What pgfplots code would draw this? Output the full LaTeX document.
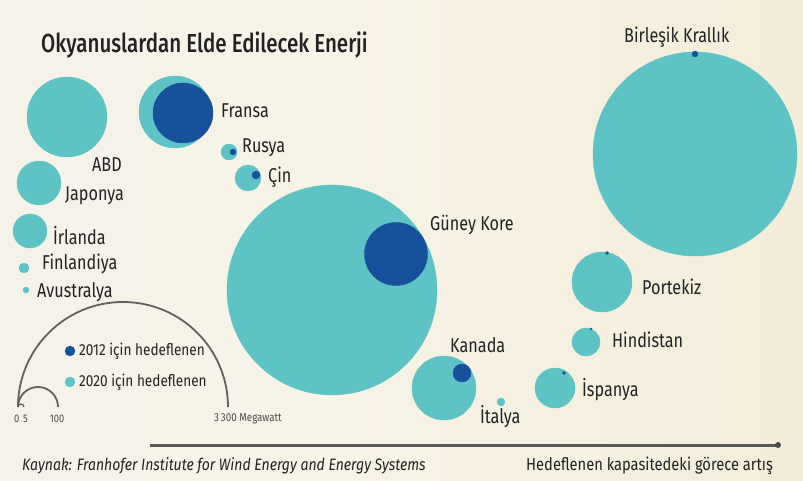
\documentclass[border=0pt]{standalone}
\usepackage{pgfplots}
\pgfplotsset{compat=1.18}
\usepackage{fontspec}
\setmainfont{Fira Sans}
\newfontfamily\cond[FakeStretch=0.81]{Fira Sans}
\newfontfamily\condl[FakeStretch=0.85]{Fira Sans}
\newfontfamily\condb[FakeStretch=0.79]{Fira Sans Medium}
\definecolor{lightc}{HTML}{5EC3C5}
\definecolor{darkc}{HTML}{17519B}
\definecolor{txt}{HTML}{222222}
\definecolor{bgA}{HTML}{F2F1EE}
\definecolor{bgB}{HTML}{F7F3E7}
\definecolor{bgC}{HTML}{F2EBD5}
\definecolor{bgD}{HTML}{EADFC1}
\pgfdeclarehorizontalshading{bgshade}{100bp}{color(0bp)=(bgA); color(45bp)=(bgB); color(85bp)=(bgC); color(100bp)=(bgD)}

% light (2020) bubbles: x, y (from bottom), r
\pgfplotstableread{
x y r
67 363 40
175 368 36
229 328 8
248 302 13
332 190 105
695 326 102
602 198 30
586 138 14
555 92 20
444 92 32
501 78 4
39 297 22
30 249 17
24 212 5
26 190 3
}\lighttab
% dark (2012) bubbles
\pgfplotstableread{
x y r
183 367 30
233 328 3
256 305 4
396 226 31.5
695 426 3
607 227 1.5
591 151 1.2
564 107 1.5
462 107 9
}\darktab

\begin{document}
\begin{tikzpicture}
\begin{axis}[
  scale only axis, width=803pt, height=480pt,
  xmin=0, xmax=803, ymin=0, ymax=480,
  hide axis, clip=false,
  axis background/.style={shading=bgshade},
]
\addplot[scatter, only marks, mark=*,
  scatter/use mapped color={draw=lightc, fill=lightc},
  visualization depends on={\thisrow{r}\as\rr},
  scatter/@pre marker code/.append style={/tikz/mark size=\rr}]
  table[x=x, y=y, meta=r] {\lighttab};
\addplot[scatter, only marks, mark=*,
  scatter/use mapped color={draw=darkc, fill=darkc},
  visualization depends on={\thisrow{r}\as\rr},
  scatter/@pre marker code/.append style={/tikz/mark size=\rr}]
  table[x=x, y=y, meta=r] {\darktab};

% title
\node[anchor=west, text=txt, inner sep=0pt, font=\condb\fontsize{26}{29}\selectfont] at (axis cs:41,435) {Okyanuslardan Elde Edilecek Enerji};

% labels
\tikzset{lab/.style={anchor=west, text=txt, inner sep=0pt, font=\cond\fontsize{20}{24}\selectfont}}
\node[lab] at (axis cs:221,369) {Fransa};
\node[lab] at (axis cs:242,332) {Rusya};
\node[lab] at (axis cs:268,303) {Çin};
\node[lab] at (axis cs:92,315) {ABD};
\node[lab] at (axis cs:65,284) {Japonya};
\node[lab] at (axis cs:53,244) {İrlanda};
\node[lab] at (axis cs:42,216) {Finlandiya};
\node[lab] at (axis cs:37,188) {Avustralya};
\node[lab] at (axis cs:430,255) {Güney Kore};
\node[lab] at (axis cs:450,135) {Kanada};
\node[lab] at (axis cs:624,443) {Birleşik Krallık};
\node[lab] at (axis cs:642,193) {Portekiz};
\node[lab] at (axis cs:612,140) {Hindistan};
\node[lab] at (axis cs:582,90) {İspanya};
\node[lab] at (axis cs:480,63) {İtalya};

% scale arcs
\draw[line width=1.8pt, color=black!62] (axis cs:18,73) arc[start angle=180, end angle=0, radius=105pt];
\draw[line width=1.8pt, color=black!62] (axis cs:18,73) arc[start angle=180, end angle=0, radius=20pt];
\draw[line width=1.2pt, color=black!62] (axis cs:18,73) arc[start angle=180, end angle=0, radius=3pt];
\node[anchor=center, text=black!70, inner sep=0pt, font=\condl\fontsize{11}{12}\selectfont] at (axis cs:21,61) {0\,\,5};
\node[anchor=center, text=black!70, inner sep=0pt, font=\condl\fontsize{11}{12}\selectfont] at (axis cs:57,61) {100};
\node[anchor=west, text=black!70, inner sep=0pt, font=\condl\fontsize{11.5}{12}\selectfont] at (axis cs:214,61) {3\,300 Megawatt};

% legend
\addplot[only marks, mark=*, mark size=5, draw=darkc, fill=darkc] coordinates {(70,129)};
\addplot[only marks, mark=*, mark size=5, draw=lightc, fill=lightc] coordinates {(70,98)};
\node[anchor=west, text=txt, inner sep=0pt, font=\condl\fontsize{16}{18}\selectfont] at (axis cs:79,129) {2012 için hedeflenen};
\node[anchor=west, text=txt, inner sep=0pt, font=\condl\fontsize{16}{18}\selectfont] at (axis cs:79,98) {2020 için hedeflenen};

% axis arrow line
\draw[line width=3pt, color=black!65] (axis cs:150,35) -- (axis cs:778,35);
\fill[color=black!70] (axis cs:778,35) circle[radius=3pt];

% footer
\node[anchor=west, text=txt, inner sep=0pt, font=\condl\itshape\fontsize{16.5}{18}\selectfont] at (axis cs:22,14) {Kaynak: Franhofer Institute for Wind Energy and Energy Systems};
\node[anchor=west, text=txt, inner sep=0pt, font=\condl\fontsize{17.3}{18}\selectfont] at (axis cs:526,14) {Hedeflenen kapasitedeki görece artış};
\end{axis}
\end{tikzpicture}
\end{document}
